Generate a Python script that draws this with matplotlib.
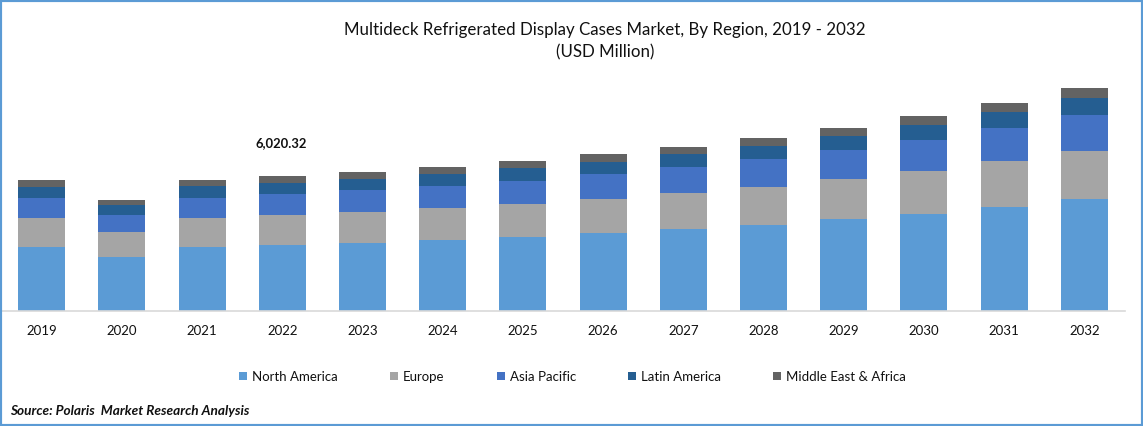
import numpy as np
import matplotlib
matplotlib.use("Agg")
import matplotlib.pyplot as plt
from matplotlib.patches import Rectangle

years = [str(y) for y in range(2019, 2033)]
north_america = [2854, 2408, 2854, 2943, 3033, 3167, 3300, 3479, 3657, 3836, 4103, 4326, 4638, 4995]
europe = [1293, 1115, 1293, 1338, 1383, 1427, 1472, 1516, 1606, 1695, 1784, 1918, 2052, 2141]
asia_pacific = [892, 758, 892, 937, 981, 981, 1026, 1115, 1160, 1249, 1293, 1383, 1472, 1606]
latin_america = [491, 446, 535, 491, 491, 535, 580, 535, 580, 580, 624, 669, 714, 758]
middle_east = [312, 223, 268, 312, 312, 312, 312, 357, 312, 357, 357, 401, 401, 446]

series = [
    ("North America", north_america, "#5B9BD5"),
    ("Europe", europe, "#A5A5A5"),
    ("Asia Pacific", asia_pacific, "#4472C4"),
    ("Latin America", latin_america, "#255E91"),
    ("Middle East & Africa", middle_east, "#636363"),
]

W, H = 1143, 426
plt.rcParams["font.family"] = ["Lato", "DejaVu Sans"]

fig = plt.figure(figsize=(W / 100, H / 100), dpi=100)
ax = fig.add_axes([1.5 / W, (H - 311) / H, 1123 / W, 231 / H])

x = np.arange(len(years))
bottom = np.zeros(len(years))
for name, vals, color in series:
    ax.bar(x, vals, width=0.586, bottom=bottom, color=color, label=name)
    bottom += np.array(vals)

ax.set_xlim(-0.5, len(years) - 0.5)
ax.set_ylim(0, 10300)
ax.set_yticks([])
ax.set_xticks(x, years)
ax.tick_params(axis="x", length=0, pad=10, labelsize=9.5, colors="#111111")
for side in ["top", "left", "right"]:
    ax.spines[side].set_visible(False)
ax.spines["bottom"].set_color("#D9D9D9")
ax.spines["bottom"].set_linewidth(1.2)

# label only on the base year
ax.text(2.99, bottom[3] + 1450, "6,020.32", ha="center", va="center",
        fontsize=9.4, fontweight="bold", color="#111111")

fig.text(605 / W, 1 - 30 / H, "Multideck Refrigerated Display Cases Market, By Region, 2019 - 2032",
         ha="center", va="center", fontsize=12.2, color="#111111")
fig.text(605 / W, 1 - 52.5 / H, "(USD Million)", ha="center", va="center", fontsize=12.2, color="#111111")

ax.legend(loc="center", bbox_to_anchor=(572.5 / W, 1 - 376.8 / H), bbox_transform=fig.transFigure,
          ncol=5, frameon=False, fontsize=9.55, handlelength=0.6, handleheight=0.6,
          handletextpad=0.38, columnspacing=3.94, labelcolor="#111111")

fig.text(10 / W, 1 - 411 / H, "Source: Polaris  Market Research Analysis", ha="left", va="center",
         fontsize=9.85, fontweight="bold", fontstyle="italic", color="#111111")

# blue outline around the picture
fig.add_artist(Rectangle((0, 0), 1, 1, transform=fig.transFigure, fill=False,
                         edgecolor="#5B9BD5", linewidth=3))

fig.savefig("out.png", dpi=100)
